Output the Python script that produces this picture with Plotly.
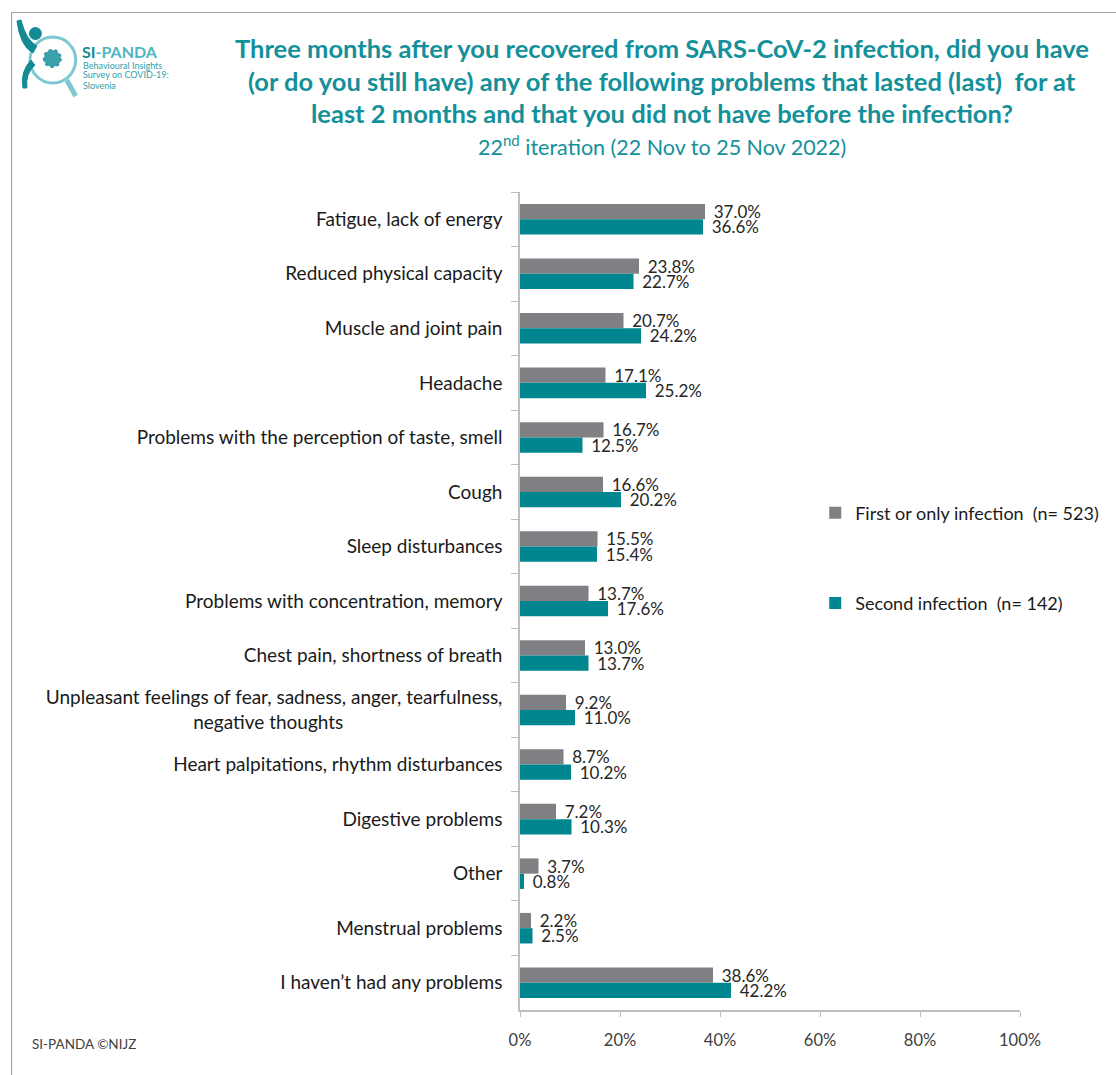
import plotly.graph_objects as go

categories = [
    "Fatigue, lack of energy",
    "Reduced physical capacity",
    "Muscle and joint pain",
    "Headache",
    "Problems with the perception of taste, smell",
    "Cough",
    "Sleep disturbances",
    "Problems with concentration, memory",
    "Chest pain, shortness of breath",
    "Unpleasant feelings of fear, sadness, anger, tearfulness,<br>negative thoughts<span style='color:rgba(0,0,0,0)'>..negative thoughts</span>",
    "Heart palpitations, rhythm disturbances",
    "Digestive problems",
    "Other",
    "Menstrual problems",
    "I haven\u2019t had any problems",
]
first_infection = [37.0, 23.8, 20.7, 17.1, 16.7, 16.6, 15.5, 13.7, 13.0, 9.2, 8.7, 7.2, 3.7, 2.2, 38.6]
second_infection = [36.6, 22.7, 24.2, 25.2, 12.5, 20.2, 15.4, 17.6, 13.7, 11.0, 10.2, 10.3, 0.8, 2.5, 42.2]
series_names = ["First or only infection  (n= 523)", "Second infection  (n= 142)"]
x_ticks = [0, 20, 40, 60, 80, 100]
x_tick_labels = ["0%", "20%", "40%", "60%", "80%", "100%"]

W, H = 1116, 1075
L, R, T, B = 520, 1023, 192, 1010
FONT = "Lato"
TEAL = "#00868F"
GRAY = "#808084"
TITLE_C = "#14909A"


def px(x):
    return (x - L) / (R - L)


def py(y):
    return (B - y) / (B - T)


fig = go.Figure()
for name, vals, col in [(series_names[0], first_infection, GRAY), (series_names[1], second_infection, TEAL)]:
    fig.add_trace(go.Bar(
        y=categories, x=vals, name=name, orientation="h", marker_color=col,
        marker_line_width=0, legendgroup=name,
        text=[f"\u2004{v:.1f}%" for v in vals], textposition="outside", constraintext="none",
        textfont=dict(family=FONT, size=17, color="#262626"), cliponaxis=False,
    ))

shapes = []
# frame
shapes.append(dict(type="rect", xref="paper", yref="paper", x0=px(8.5), x1=px(1125), y0=py(12.5), y1=py(1085),
                   line=dict(color="#A6A6A6", width=1.2), fillcolor="rgba(0,0,0,0)", layer="below"))
# logo: magnifier
shapes.append(dict(type="circle", xref="paper", yref="paper", x0=px(27), x1=px(73), y0=py(37), y1=py(83),
                   line=dict(color="#7CC9CF", width=3)))
shapes.append(dict(type="line", xref="paper", yref="paper", x0=px(64), x1=px(73), y0=py(80), y1=py(96),
                   line=dict(color="#7CC9CF", width=5)))
shapes.append(dict(type="circle", xref="paper", yref="paper", x0=px(41), x1=px(58), y0=py(50), y1=py(67),
                   line=dict(color="#2B9AA3", width=2, dash="dot"), fillcolor="#3AA3AC"))
# logo: figure head and body
shapes.append(dict(type="circle", xref="paper", yref="paper", x0=px(26), x1=px(39), y0=py(27), y1=py(40),
                   fillcolor="#138A94", line=dict(width=0)))
shapes.append(dict(type="path", xref="paper", yref="paper",
                   path=f"M {px(14)},{py(21)} Q {px(17)},{py(46)} {px(30)},{py(53)} L {px(34)},{py(46)} Q {px(23)},{py(40)} {px(18)},{py(20)} Z",
                   fillcolor="#138A94", line=dict(color="#138A94", width=1)))
shapes.append(dict(type="path", xref="paper", yref="paper",
                   path=f"M {px(28)},{py(60)} Q {px(17)},{py(72)} {px(20)},{py(88)} L {px(24)},{py(88)} Q {px(22)},{py(74)} {px(32)},{py(65)} Z",
                   fillcolor="#138A94", line=dict(color="#138A94", width=1)))

annotations = []
title_lines = [
    ("Three months after you recovered from SARS-CoV-2 infection, did you have", 48),
    ("(or do you still have) any of the following problems that lasted (last)  for at", 81),
    ("least 2 months and that you did not have before the infection?", 113),
]
for txt, yy in title_lines:
    annotations.append(dict(text=f"<b>{txt}</b>", xref="paper", yref="paper", x=px(663), y=py(yy),
                            showarrow=False, xanchor="center", yanchor="middle",
                            font=dict(family=FONT, size=25.5, color=TITLE_C)))
annotations.append(dict(text="22<sup>nd</sup> iteration (22 Nov to 25 Nov 2022)", xref="paper", yref="paper",
                        x=px(663), y=py(145), showarrow=False, xanchor="center", yanchor="middle",
                        font=dict(family=FONT, size=21.5, color=TITLE_C)))
annotations.append(dict(text="SI-PANDA \u00a9NIJZ", xref="paper", yref="paper", x=px(27), y=py(1044),
                        showarrow=False, xanchor="left", yanchor="middle",
                        font=dict(family=FONT, size=13.5, color="#404040")))
# logo text
annotations.append(dict(text="<b><span style='color:#138A94'>SI</span>-PANDA</b>", xref="paper", yref="paper",
                        x=px(77), y=py(51), showarrow=False, xanchor="left", yanchor="middle",
                        font=dict(family=FONT, size=16, color="#4DB6BE")))
for txt, yy in [("Behavioural Insights", 65), ("Survey on COVID-19:", 75), ("Slovenia", 85)]:
    annotations.append(dict(text=txt, xref="paper", yref="paper", x=px(78), y=py(yy), showarrow=False,
                            xanchor="left", yanchor="middle", font=dict(family=FONT, size=9, color="#2FA0A9")))

fig.update_layout(
    width=W, height=H,
    margin=dict(l=L, r=W - R, t=T, b=H - B, pad=0),
    paper_bgcolor="white", plot_bgcolor="white",
    barmode="group", bargap=0.44, bargroupgap=0,
    font=dict(family=FONT, size=16, color="#1A1A1A"),
    showlegend=True,
    legend=dict(x=px(817), y=py(558), xanchor="left", yanchor="middle", traceorder="grouped",
                tracegroupgap=64, font=dict(family=FONT, size=18, color="#1A1A1A"),
                bgcolor="rgba(0,0,0,0)"),
    shapes=shapes, annotations=annotations,
    xaxis=dict(range=[0, 100], tickvals=x_ticks, ticktext=x_tick_labels, showgrid=False, zeroline=False,
               showline=True, linecolor="#BFBFBF", linewidth=1.5, ticks="outside", ticklen=5,
               tickcolor="#BFBFBF", ticklabelstandoff=9,
               tickfont=dict(family=FONT, size=16.5, color="#404040")),
    yaxis=dict(autorange="reversed", showgrid=False, showline=True, linecolor="#BFBFBF", linewidth=1.5,
               ticks="outside", tickson="boundaries", ticklen=7, tickcolor="#BFBFBF",
               ticklabelstandoff=12, tickfont=dict(family=FONT, size=19, color="#1A1A1A")),
)

fig.write_html("out.html")
